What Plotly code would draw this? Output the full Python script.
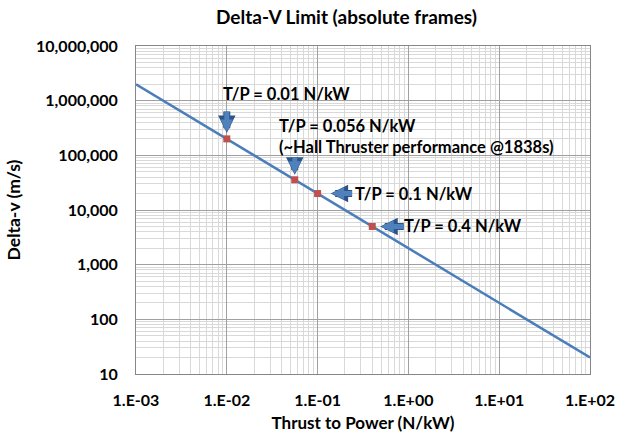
import math
import plotly.graph_objects as go

# ---- data ----
line_x = [0.001, 0.01, 0.1, 1, 10, 100]
line_y = [2000000, 200000, 20000, 2000, 200, 20]

pt_x = [0.01, 0.056, 0.1, 0.4]
pt_y = [200000, 35700, 20000, 5000]

x_tickvals = [0.001, 0.01, 0.1, 1, 10, 100]
x_ticktext = ["1.E-03", "1.E-02", "1.E-01", "1.E+00", "1.E+01", "1.E+02"]
y_tickvals = [10, 100, 1000, 10000, 100000, 1000000, 10000000]
y_ticktext = ["10", "100", "1,000", "10,000", "100,000", "1,000,000", "10,000,000"]

labels = ["T/P = 0.01 N/kW",
          "T/P = 0.056 N/kW<br>(~Hall Thruster performance @1838s)",
          "T/P = 0.1 N/kW",
          "T/P = 0.4 N/kW"]

FONT = "Lato"
BLUE = "#4a7ebb"
RED = "#c0504d"
ARROW = "#4f81bd"

fig = go.Figure()
fig.add_trace(go.Scatter(x=line_x, y=line_y, mode="lines",
                         line=dict(color=BLUE, width=2.5), hoverinfo="skip"))
fig.add_trace(go.Scatter(x=pt_x, y=pt_y, mode="markers",
                         marker=dict(symbol="square", color=RED, size=7,
                                     line=dict(width=0)), hoverinfo="skip"))

# arrows: (tail offset ax, ay in px), text offsets
arrow_specs = [
    dict(ax=0, ay=-29, standoff=7),
    dict(ax=0, ay=-24, standoff=6),
    dict(ax=36, ay=0, standoff=14),
    dict(ax=33, ay=0, standoff=9),
]
text_specs = [
    dict(xshift=-6, yshift=45),
    dict(xshift=-18, yshift=43),
    dict(xshift=35, yshift=0),
    dict(xshift=30, yshift=0),
]
for i in range(len(pt_x)):
    lx = math.log10(pt_x[i])
    ly = math.log10(pt_y[i])
    a = arrow_specs[i]
    fig.add_annotation(x=lx, y=ly, xref="x", yref="y",
                       ax=a["ax"], ay=a["ay"], text="", showarrow=True,
                       arrowhead=2, arrowsize=0.5, arrowwidth=7,
                       arrowcolor="#2c5486", standoff=a["standoff"] - 1)
    fig.add_annotation(x=lx, y=ly, xref="x", yref="y",
                       ax=a["ax"], ay=a["ay"], text="", showarrow=True,
                       arrowhead=2, arrowsize=0.5, arrowwidth=5,
                       arrowcolor=ARROW, standoff=a["standoff"])
    t = text_specs[i]
    fig.add_annotation(x=lx, y=ly, xref="x", yref="y",
                       text=labels[i], showarrow=False,
                       xshift=t["xshift"], yshift=t["yshift"],
                       xanchor="left", align="left",
                       font=dict(family=FONT, size=16.5, color="black", weight="bold"))

axis_common = dict(type="log", showline=True, linecolor="#868686", linewidth=1,
                   mirror=True, gridcolor="#a0a0a0", gridwidth=1, ticks="",
                   zeroline=False, automargin=False,
                   tickfont=dict(family=FONT, size=16, color="black", weight="bold"),
                   minor=dict(showgrid=True, gridcolor="#d9d9d9", gridwidth=1,
                              dtick="D1", ticks=""))

fig.update_xaxes(**axis_common, range=[-3, 2], tickvals=x_tickvals, ticktext=x_ticktext,
                 ticklabelstandoff=12,
                 title=dict(text="Thrust to Power (N/kW)", standoff=8,
                            font=dict(family=FONT, size=17, color="black", weight="bold")))
fig.update_yaxes(**axis_common, range=[1, 7], tickvals=y_tickvals, ticktext=y_ticktext,
                 ticklabelstandoff=14,
                 title=dict(text="Delta-v (m/s)", standoff=10,
                            font=dict(family=FONT, size=17.5, color="black", weight="bold")))

fig.update_layout(
    width=630, height=437,
    margin=dict(l=136, r=40, t=46, b=63),
    paper_bgcolor="white", plot_bgcolor="white",
    showlegend=False,
    title=dict(text="Delta-V Limit (absolute frames)", x=0.55, xanchor="center",
               y=0.96, yanchor="middle",
               font=dict(family=FONT, size=19, color="black", weight="bold")),
)

fig.write_html("out.html")
